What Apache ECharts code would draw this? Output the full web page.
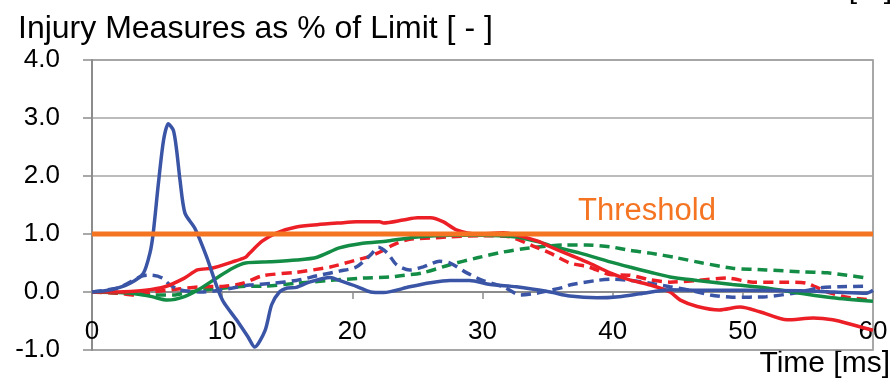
<!DOCTYPE html>
<html>
<head>
<meta charset="utf-8">
<script src="https://cdn.jsdelivr.net/npm/echarts@6/dist/echarts.min.js"></script>
<style>
html,body{margin:0;padding:0;background:#fff;}
#chart{width:893px;height:379px;}
</style>
</head>
<body>
<div id="chart"></div>
<script>
// ---- data: [time ms, value] ----
const xTicks = [0, 10, 20, 30, 40, 50, 60];
const yTicks = [-1, 0, 1, 2, 3, 4];
const thresholdValue = 1.0;

const blueSolid = [[0,0],[1,0.02],[2,0.07],[3,0.16],[3.94,0.32],[4.45,0.67],[4.7,1.01],[5.1,1.87],[5.5,2.62],[5.86,2.9],[6.25,2.79],[6.5,2.45],[6.76,1.93],[7.14,1.36],[7.9,1.1],[8.8,0.61],[9.6,0.09],[10.1,-0.17],[11.1,-0.48],[12.0,-0.78],[12.5,-0.95],[13.3,-0.66],[13.8,-0.22],[14.4,0.0],[15,0.07],[15.7,0.08],[16.7,0.17],[18.3,0.25],[19,0.2],[20.4,0.09],[21.4,0.0],[22.4,-0.01],[24.4,0.09],[26,0.16],[27.5,0.2],[29,0.2],[30.6,0.13],[32.6,0.09],[35.2,0.0],[36.7,-0.07],[38.8,-0.1],[40.5,-0.08],[42.1,-0.03],[44.4,0.04],[47,0.03],[50,0.03],[54.4,0.02],[57,0.0],[59.5,-0.02],[60,0.03]];
const blueDashed = [[0,0],[2,0.07],[3,0.18],[3.9,0.28],[4.6,0.29],[5.4,0.24],[6,0.12],[6.6,0.05],[7.1,0.02],[8.4,0.0],[9.5,0.02],[10.8,0.07],[12.1,0.12],[13.9,0.15],[15.7,0.2],[17.3,0.28],[19,0.36],[20.3,0.43],[21.4,0.64],[22,0.77],[22.7,0.67],[23.4,0.47],[24.4,0.38],[25.4,0.43],[26.7,0.53],[27.5,0.5],[28.8,0.33],[30,0.2],[31.6,0.09],[32.9,-0.05],[34.2,-0.02],[35.2,0.03],[36.2,0.08],[36.7,0.12],[38.8,0.2],[40,0.22],[41.3,0.2],[42.9,0.15],[44.4,0.09],[45.9,0.03],[47.5,-0.05],[49.2,-0.09],[51.8,-0.08],[53.9,-0.02],[55.9,0.07],[57.4,0.09],[59.5,0.1]];
const redSolid = [[0,0],[2,0],[4.1,0.03],[5.6,0.09],[7.1,0.24],[8.1,0.38],[9.2,0.41],[10.8,0.52],[11.8,0.6],[12.1,0.67],[13.1,0.88],[14.2,1.02],[15.7,1.12],[17.3,1.16],[19,1.19],[20.3,1.21],[22.1,1.21],[22.4,1.19],[23.9,1.24],[25,1.28],[26,1.28],[27,1.21],[28,1.07],[29.6,1.0],[31.6,1.02],[32.6,0.98],[34.2,0.88],[35.2,0.78],[36.7,0.64],[38.2,0.5],[39.8,0.33],[41.3,0.21],[42.9,0.12],[44.4,0.0],[45.2,-0.14],[46.5,-0.25],[48.2,-0.31],[49.8,-0.26],[51.3,-0.34],[53.4,-0.48],[55.4,-0.45],[56.9,-0.48],[58.5,-0.57],[60,-0.66]];
const redDashed = [[0,0],[2,-0.02],[3.3,-0.05],[4.6,0],[6.6,0.05],[8.4,0.09],[10.2,0.1],[11.6,0.15],[13.1,0.28],[15.7,0.34],[18.3,0.43],[19.8,0.52],[21.4,0.62],[22.4,0.72],[23.1,0.81],[24.4,0.91],[26,0.93],[27.5,0.95],[30,0.97],[32.1,0.95],[33.8,0.8],[35.2,0.67],[36.7,0.5],[38.2,0.43],[39.8,0.3],[41.3,0.29],[42.9,0.21],[44.4,0.17],[46.5,0.2],[48.8,0.24],[50.8,0.17],[53.4,0.17],[54.9,0.15],[56.5,0.0],[58,-0.09],[60,-0.14]];
const greenSolid = [[0,0],[2,-0.01],[3.3,-0.03],[4.6,-0.08],[5.8,-0.14],[7.1,-0.08],[8.4,0.07],[9.7,0.26],[10.8,0.41],[11.8,0.5],[13.7,0.52],[15.7,0.55],[17.3,0.6],[19,0.76],[20.8,0.84],[22.7,0.88],[25,0.95],[27.5,0.98],[30,0.98],[32.6,0.95],[34.4,0.86],[35.2,0.8],[37.5,0.67],[39.8,0.52],[41.3,0.43],[42.9,0.34],[44.4,0.26],[46.5,0.2],[49.2,0.13],[51.8,0.07],[54.4,-0.02],[56.9,-0.1],[60,-0.16]];
const greenDashed = [[0,0],[2,-0.01],[4.6,-0.05],[6.4,-0.05],[7.1,-0.02],[8.4,0.03],[10.2,0.07],[11.8,0.1],[13.1,0.1],[15.7,0.15],[18.3,0.2],[20.8,0.24],[22.9,0.26],[23.7,0.28],[25.4,0.33],[27.5,0.47],[29.6,0.59],[31.6,0.69],[33.6,0.76],[36.2,0.81],[38,0.81],[39.8,0.78],[41.3,0.72],[42.9,0.67],[44.9,0.59],[46.9,0.5],[49.2,0.41],[51.8,0.38],[54.4,0.35],[56.5,0.33],[58,0.29],[59.5,0.24]];

const titleText = 'Injury Measures as % of Limit [ - ]';
const xAxisName = 'Time [ms]';
const thresholdLabel = 'Threshold';

const BLUE = '#3b55a6', RED = '#ec1f27', GREEN = '#138c45', ORANGE = '#f47422';
const FONT = '"Liberation Sans", Arial, sans-serif';
const AXIS_GRAY = '#8c8c8c';

function line(data, color, dashed) {
  return {
    type: 'line', data: data, symbol: 'none', smooth: 0.25,
    lineStyle: { color: color, width: 3.5, type: dashed ? [10, 6] : 'solid', cap: 'butt' },
    emphasis: { disabled: true }, silent: true
  };
}

const chart = echarts.init(document.getElementById('chart'), null, { renderer: 'canvas' });
chart.setOption({
  animation: false,
  backgroundColor: '#fff',
  grid: { left: 92, right: 20, top: 60, bottom: 29, containLabel: false, outerBoundsMode: 'none', show: true, borderColor: AXIS_GRAY, borderWidth: 1.5 },
  xAxis: {
    type: 'value', min: xTicks[0], max: xTicks[xTicks.length - 1], interval: 10,
    offset: -58,
    axisLine: { onZero: false, lineStyle: { color: AXIS_GRAY, width: 2 } },
    axisTick: { show: true, length: 7, lineStyle: { color: AXIS_GRAY, width: 1.5 } },
    axisLabel: { margin: 27, color: '#000', fontSize: 26, fontFamily: FONT, hideOverlap: false },
    splitLine: { show: false }
  },
  yAxis: {
    type: 'value', min: yTicks[0], max: yTicks[yTicks.length - 1], interval: 1,
    axisLine: { show: true, onZero: false, lineStyle: { color: AXIS_GRAY, width: 2 } },
    axisTick: { show: true, length: 9, lineStyle: { color: AXIS_GRAY, width: 1.5 } },
    axisLabel: { margin: 32, color: '#000', fontSize: 26, fontFamily: FONT, formatter: v => v.toFixed(1) },
    splitLine: { show: true, lineStyle: { color: '#a6a6a6', width: 1.5 } }
  },
  series: [
    line(greenDashed, GREEN, true),
    line(redDashed, RED, true),
    line(blueDashed, BLUE, true),
    line(greenSolid, GREEN, false),
    line(redSolid, RED, false),
    line(blueSolid, BLUE, false),
    {
      type: 'line', data: [[xTicks[0], thresholdValue], [xTicks[xTicks.length - 1], thresholdValue]],
      symbol: 'none', silent: true, lineStyle: { color: ORANGE, width: 5 }
    }
  ],
  graphic: [
    { type: 'text', x: 18, y: 29, style: { text: titleText, font: '32px ' + FONT, fill: '#000', align: 'left', verticalAlign: 'middle', textAlign: 'left', textVerticalAlign: 'middle' } },
    { type: 'text', x: 647, y: 211, style: { text: thresholdLabel, font: '31px ' + FONT, fill: ORANGE, align: 'center', verticalAlign: 'middle', textAlign: 'center', textVerticalAlign: 'middle' } },
    { type: 'text', x: 890, y: 364, style: { text: xAxisName, font: '30px ' + FONT, fill: '#000', align: 'right', verticalAlign: 'middle', textAlign: 'right', textVerticalAlign: 'middle' } },
    { type: 'text', x: 892, y: -10, style: { text: '[ - ]', font: '30px ' + FONT, fill: '#000', align: 'right', verticalAlign: 'middle', textAlign: 'right', textVerticalAlign: 'middle' } }
  ]
});
</script>
</body>
</html>
